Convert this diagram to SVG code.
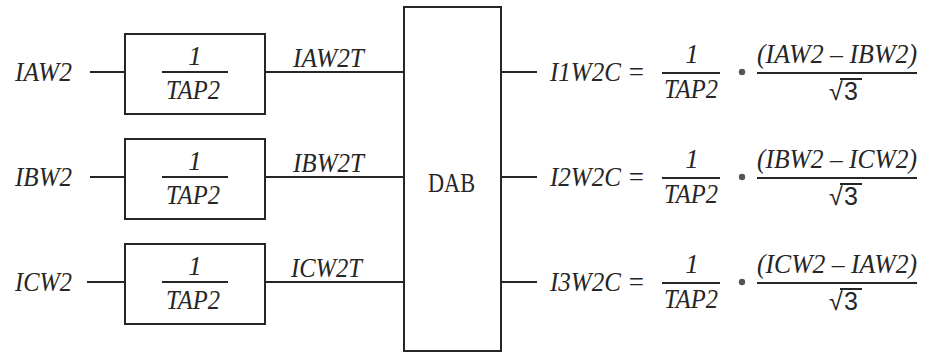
<svg xmlns="http://www.w3.org/2000/svg" width="935" height="352" viewBox="0 0 935 352">
  <style>
    .ln { stroke: #262626; stroke-width: 2; fill: none; }
    .box { stroke: #262626; stroke-width: 2; fill: #ffffff; }
    .t { font-family: "Liberation Serif", "Times New Roman", serif; font-style: italic; font-size: 27px; fill: #262626; }
    .u { font-family: "Liberation Serif", "Times New Roman", serif; font-size: 27px; fill: #262626; }
    .s { font-family: "Liberation Sans", Arial, sans-serif; font-size: 25px; fill: #262626; }
    .m { text-anchor: middle; }
    .dot { fill: #555555; }
  </style>
  <rect width="935" height="352" fill="#ffffff"/>

  <!-- connectors -->
  <g id="connectors">
    <line class="ln" x1="90" y1="72" x2="125" y2="72"/>
    <line class="ln" x1="90" y1="177" x2="125" y2="177"/>
    <line class="ln" x1="87" y1="282" x2="125" y2="282"/>
    <line class="ln" x1="265" y1="72" x2="404" y2="72"/>
    <line class="ln" x1="265" y1="177" x2="404" y2="177"/>
    <line class="ln" x1="265" y1="282" x2="404" y2="282"/>
    <line class="ln" x1="501" y1="72" x2="537" y2="72"/>
    <line class="ln" x1="501" y1="177" x2="537" y2="177"/>
    <line class="ln" x1="501" y1="282" x2="537" y2="282"/>
  </g>

  <!-- inputs -->
  <g id="in-iaw2"><text class="t" x="15" y="81" textLength="57" lengthAdjust="spacingAndGlyphs">IAW2</text></g>
  <g id="in-ibw2"><text class="t" x="15" y="186" textLength="57" lengthAdjust="spacingAndGlyphs">IBW2</text></g>
  <g id="in-icw2"><text class="t" x="15" y="291" textLength="57" lengthAdjust="spacingAndGlyphs">ICW2</text></g>

  <!-- scaling blocks 1/TAP2 -->
  <g id="tap-a">
    <rect class="box" x="125" y="34" width="140" height="80"/>
    <text class="t m" x="195" y="65">1</text>
    <line class="ln" x1="162" y1="72" x2="228" y2="72"/>
    <text class="t" x="166" y="99" textLength="54" lengthAdjust="spacingAndGlyphs">TAP2</text>
  </g>
  <g id="tap-b">
    <rect class="box" x="125" y="139" width="140" height="80"/>
    <text class="t m" x="195" y="170">1</text>
    <line class="ln" x1="162" y1="177" x2="228" y2="177"/>
    <text class="t" x="166" y="204" textLength="54" lengthAdjust="spacingAndGlyphs">TAP2</text>
  </g>
  <g id="tap-c">
    <rect class="box" x="125" y="244" width="140" height="80"/>
    <text class="t m" x="195" y="275">1</text>
    <line class="ln" x1="162" y1="282" x2="228" y2="282"/>
    <text class="t" x="166" y="309" textLength="54" lengthAdjust="spacingAndGlyphs">TAP2</text>
  </g>

  <!-- scaled signal labels -->
  <g id="lbl-iaw2t"><text class="t" x="293" y="67" textLength="71" lengthAdjust="spacingAndGlyphs">IAW2T</text></g>
  <g id="lbl-ibw2t"><text class="t" x="293" y="172" textLength="71" lengthAdjust="spacingAndGlyphs">IBW2T</text></g>
  <g id="lbl-icw2t"><text class="t" x="291" y="277" textLength="71" lengthAdjust="spacingAndGlyphs">ICW2T</text></g>

  <!-- delta (DAB) block -->
  <g id="dab">
    <rect class="box" x="404" y="7" width="97" height="344"/>
    <text class="u" x="428" y="192" textLength="47" lengthAdjust="spacingAndGlyphs">DAB</text>
  </g>

  <!-- compensated outputs -->
  <g id="out-1">
    <text class="t" x="550" y="81" textLength="71" lengthAdjust="spacingAndGlyphs">I1W2C</text>
    <text class="t" x="627" y="81">=</text>
    <text class="t m" x="692" y="63">1</text>
    <line class="ln" x1="662" y1="73" x2="720" y2="73"/>
    <text class="t" x="664" y="98" textLength="54" lengthAdjust="spacingAndGlyphs">TAP2</text>
    <circle class="dot" cx="742" cy="72" r="3.2"/>
    <text class="t" x="757" y="63" textLength="160" lengthAdjust="spacingAndGlyphs">(IAW2 – IBW2)</text>
    <line class="ln" x1="757" y1="73" x2="917" y2="73"/>
    <text class="s" x="829" y="100">√</text>
    <text class="s" x="844" y="100">3</text>
    <line class="ln" x1="840" y1="79" x2="862" y2="79" stroke-width="1.5"/>
  </g>
  <g id="out-2">
    <text class="t" x="550" y="186" textLength="71" lengthAdjust="spacingAndGlyphs">I2W2C</text>
    <text class="t" x="627" y="186">=</text>
    <text class="t m" x="692" y="168">1</text>
    <line class="ln" x1="662" y1="178" x2="720" y2="178"/>
    <text class="t" x="664" y="203" textLength="54" lengthAdjust="spacingAndGlyphs">TAP2</text>
    <circle class="dot" cx="742" cy="177" r="3.2"/>
    <text class="t" x="757" y="168" textLength="160" lengthAdjust="spacingAndGlyphs">(IBW2 – ICW2)</text>
    <line class="ln" x1="757" y1="178" x2="917" y2="178"/>
    <text class="s" x="829" y="205">√</text>
    <text class="s" x="844" y="205">3</text>
    <line class="ln" x1="840" y1="184" x2="862" y2="184" stroke-width="1.5"/>
  </g>
  <g id="out-3">
    <text class="t" x="550" y="291" textLength="71" lengthAdjust="spacingAndGlyphs">I3W2C</text>
    <text class="t" x="627" y="291">=</text>
    <text class="t m" x="692" y="273">1</text>
    <line class="ln" x1="662" y1="283" x2="720" y2="283"/>
    <text class="t" x="664" y="308" textLength="54" lengthAdjust="spacingAndGlyphs">TAP2</text>
    <circle class="dot" cx="742" cy="282" r="3.2"/>
    <text class="t" x="757" y="273" textLength="160" lengthAdjust="spacingAndGlyphs">(ICW2 – IAW2)</text>
    <line class="ln" x1="757" y1="283" x2="917" y2="283"/>
    <text class="s" x="829" y="310">√</text>
    <text class="s" x="844" y="310">3</text>
    <line class="ln" x1="840" y1="289" x2="862" y2="289" stroke-width="1.5"/>
  </g>
</svg>
